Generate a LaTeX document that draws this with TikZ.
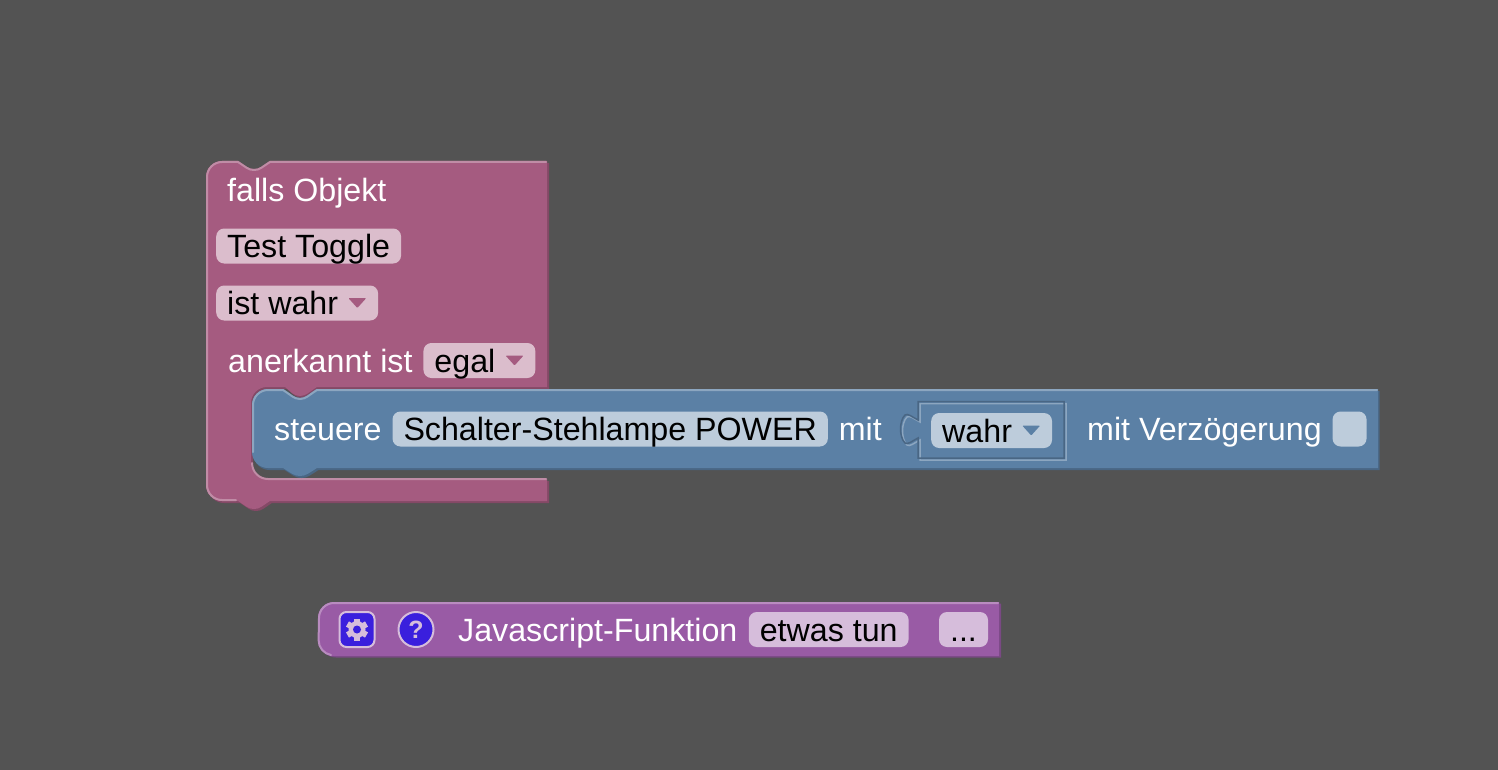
\documentclass[tikz,border=0pt]{standalone}
\usepackage{fontspec}
\setmainfont{Liberation Sans}
\usetikzlibrary{positioning,calc}

\definecolor{canvasgray}{HTML}{535353}
\definecolor{rosemain}{HTML}{A55B80}
\definecolor{roselight}{HTML}{C08CA6}
\definecolor{rosedark}{HTML}{844966}
\definecolor{rosefieldbg}{HTML}{DBBDCC}
\definecolor{bluemain}{HTML}{5B80A5}
\definecolor{bluelight}{HTML}{8CA6C0}
\definecolor{bluedark}{HTML}{496684}
\definecolor{bluefieldbg}{HTML}{BDCCDB}
\definecolor{violetmain}{HTML}{995BA5}
\definecolor{violetlight}{HTML}{B98CC0}
\definecolor{violetdark}{HTML}{7A4984}
\definecolor{violetfieldbg}{HTML}{D6BDDB}
\definecolor{iconblue}{HTML}{3A1FDD}

\newcommand{\droparrow}[2]{\fill[#2, rounded corners=1pt] ($(#1.east)+(-30,-5)$) -- ++(18,0) -- ++(-9,10) -- cycle;}

\begin{document}
\begin{tikzpicture}[x=1pt,y=-1pt]
\tikzstyle{blocktext} = [text=white, font=\fontsize{32.2}{32}\selectfont, inner sep=0pt, text height=28pt, text depth=5pt]
\tikzstyle{fieldbase} = [rectangle, rounded corners=8pt, text=black, font=\fontsize{32.2}{32}\selectfont, inner xsep=11pt, inner ysep=0pt, minimum height=35pt, text height=28pt, text depth=5pt]
\tikzstyle{rosefield} = [fieldbase, fill=rosefieldbg]
\tikzstyle{bluefield} = [fieldbase, fill=bluefieldbg]
\tikzstyle{violetfield} = [fieldbase, fill=violetfieldbg]
\tikzstyle{edgelight} = [line width=2pt, line cap=round]

\fill[canvasgray] (0,0) rectangle (1498,770);

% Outline of the rose block
\def\rosepath{(206,177) arc[start angle=180, end angle=90, radius=16pt] -- (238,161)
  .. controls (246,166) and (248,169) .. (254,169) .. controls (260,169) and (262,166) .. (270,161)
  -- (547,161) -- (547,387) -- (317,387)
  .. controls (309,392) and (306,396) .. (300,396) .. controls (294,396) and (291,392) .. (285,387)
  -- (267,387) arc[start angle=90, end angle=180, radius=16pt] -- (251,463)
  arc[start angle=180, end angle=270, radius=16pt] -- (547,479) -- (547,501) -- (270,501)
  .. controls (262,506) and (260,509) .. (254,509) .. controls (248,509) and (246,506) .. (238,501)
  -- (222,501) arc[start angle=270, end angle=180, radius=16pt] -- cycle}
\fill[rosedark, shift={(2,2)}] \rosepath;
\fill[rosemain] \rosepath;
\draw[roselight, edgelight] (236,500) -- (222,500) arc[start angle=270, end angle=180, radius=15pt] -- (207,177)
  arc[start angle=180, end angle=90, radius=15pt] -- (238,162)
  .. controls (246,167) and (248,170) .. (254,170) .. controls (260,170) and (262,167) .. (270,162) -- (546,162);
\draw[roselight, edgelight] (252,463) arc[start angle=180, end angle=270, radius=16pt] -- (546,479);

% Rose block texts
\node[blocktext, anchor=west] (fallsobjekt) at (227,190) {falls Objekt};
\node[rosefield, anchor=west] (testtoggle) at (216,246) {Test Toggle};
\node[rosefield, anchor=west] (istwahr) at (216,303) {ist wahr\hspace*{29pt}};
\node[blocktext, anchor=west] (anerkannt) at (228,360.5) {anerkannt ist};
\node[rosefield, right=10.5pt of anerkannt] (egal) {egal\hspace*{29pt}};
\droparrow{istwahr}{rosemain}
\droparrow{egal}{rosemain}

% Outline of the blue block
\def\bluepath{(252,405) arc[start angle=180, end angle=90, radius=16pt] -- (283,389)
  .. controls (291,394) and (294,398) .. (300,398) .. controls (306,398) and (309,394) .. (317,389)
  -- (1378,389) -- (1378,468) -- (317,468)
  .. controls (309,473) and (306,476) .. (300,476) .. controls (294,476) and (291,473) .. (283,468)
  -- (268,468) arc[start angle=270, end angle=180, radius=16pt] -- cycle}
\fill[bluedark, shift={(1.5,2)}] \bluepath;
\fill[bluemain] \bluepath;
\draw[bluelight, edgelight] (253,452) -- (253,405) arc[start angle=180, end angle=90, radius=15pt] -- (283,390)
  .. controls (291,395) and (294,399) .. (300,399) .. controls (306,399) and (309,395) .. (317,390) -- (1377,390);

% Socket in the blue block
\def\socketpath{(918,401.5) -- (1064,401.5) -- (1064,458) -- (918,458) -- (918,438)
  .. controls (912,441) and (908,445) .. (905,443) .. controls (899,437) and (899,421) .. (905,415)
  .. controls (908,413) and (912,417) .. (918,420) -- cycle}
\draw[bluelight, line width=1.5pt, shift={(2,2)}] \socketpath;
\draw[bluedark, line width=1.5pt] \socketpath;

% Blue block texts
\node[blocktext, anchor=west] (steuere) at (274,429) {steuere};
\node[bluefield, right=10.5pt of steuere] (schalter) {Schalter-Stehlampe POWER};
\node[blocktext, right=10.5pt of schalter] (mit) {mit};
\node[bluefield, anchor=west] (wahr) at (931,430.5) {wahr\hspace*{29pt}};
\droparrow{wahr}{bluemain}
\node[blocktext, anchor=west] (verzoegerung) at (1087,429) {mit Verzögerung};
\node[bluefield, minimum width=34pt, right=10.5pt of verzoegerung] (delay) {};

% Violet block
\def\violetpath{(318,618) arc[start angle=180, end angle=90, radius=16pt] -- (999,602) -- (999,656)
  -- (334,656) arc[start angle=270, end angle=180, radius=16pt] -- cycle}
\fill[violetdark, shift={(2,1.5)}] \violetpath;
\fill[violetmain] \violetpath;
\draw[violetlight, edgelight] (331,655) arc[start angle=260, end angle=180, radius=15pt] -- (319,618)
  arc[start angle=180, end angle=90, radius=15pt] -- (998,603);

% Gear and help buttons
\node[rectangle, draw=violetfieldbg, fill=iconblue, line width=2pt, rounded corners=7pt, minimum size=35pt, inner sep=0pt] (gearbutton) at (357,629.5) {};
\foreach \a in {0,60,...,300} {
  \fill[violetfieldbg, rotate around={\a:(gearbutton.center)}] ($(gearbutton.center)+(-3,-11)$) rectangle ($(gearbutton.center)+(3,-5)$);
}
\fill[violetfieldbg] (gearbutton.center) circle[radius=8.5pt];
\fill[iconblue] (gearbutton.center) circle[radius=4pt];
\node[circle, draw=violetfieldbg, fill=iconblue, line width=2pt, minimum size=35pt, inner sep=0pt, text=violetfieldbg, font=\fontsize{25}{25}\selectfont\bfseries] (helpbutton) at (416,629.5) {?};

% Violet block texts
\node[blocktext, anchor=west] (jsfunktion) at (458,629.5) {Javascript-Funktion};
\node[violetfield, right=11pt of jsfunktion] (etwastun) {etwas tun};
\node[violetfield, minimum width=49pt, right=30pt of etwastun] (params) {...};

\end{tikzpicture}
\end{document}
